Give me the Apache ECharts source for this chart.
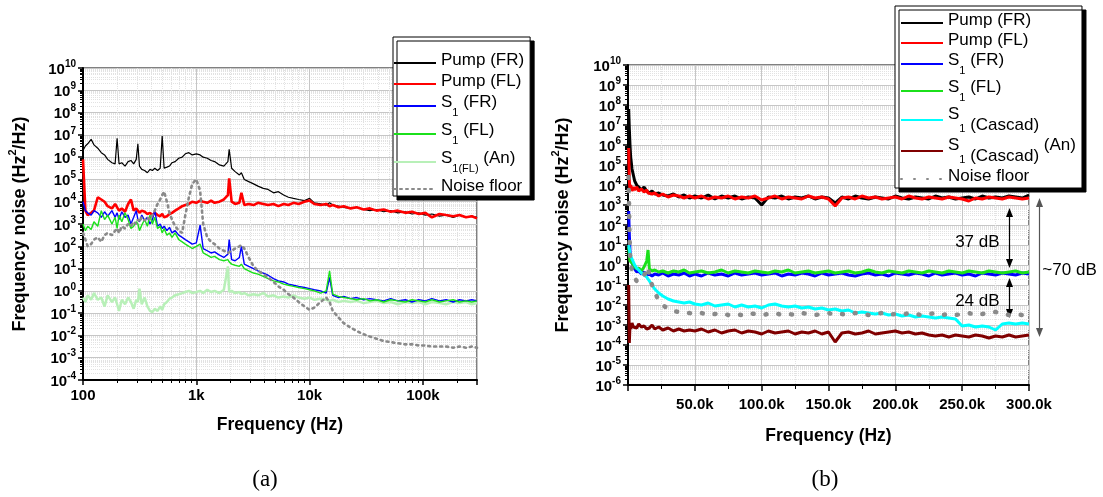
<!DOCTYPE html>
<html>
<head>
<meta charset="utf-8">
<script src="https://cdn.jsdelivr.net/npm/echarts@6/dist/echarts.min.js"></script>
<style>
  html, body { margin: 0; padding: 0; background: #fff; }
  #chart { width: 1103px; height: 497px; }
</style>
</head>
<body>
<div id="chart"></div>
<script>
// values are log10 of the frequency noise (Hz^2/Hz)

// panel (a): log frequency axis
var freqA = [100,105,110,118,125,135,145,155,165,180,
  192,200,208,220,235,250,265,280,295,305,
  315,330,350,370,390,410,430,455,480,500,
  520,550,580,610,650,700,750,800,860,920,
  1000,1080,1150,1250,1350,1450,1600,1750,1900,1950,
  2050,2200,2400,2500,2650,2900,3200,3500,3900,4300,
  4800,5300,5900,6500,7200,8000,9000,10000,11000,12500,
  14000,15000,16000,18000,20000,23000,26000,30000,34000,39000,
  45000,52000,60000,70000,80000,92000,105000,120000,140000,160000,
  185000,210000,240000,270000,300000];

var pumpFR_a = [6.3,6.5,6.6,6.8,6.55,6.4,6.2,6.1,5.9,5.75,
  5.7,6.85,5.7,5.75,5.6,5.8,5.85,5.7,5.9,6.6,
  5.6,5.45,5.4,5.3,5.45,5.4,5.5,5.4,5.5,6.95,
  5.5,5.55,5.6,5.75,5.8,5.95,6.0,6.15,6.2,6.1,
  6.15,6.1,6.0,5.95,5.85,5.8,5.65,5.6,5.8,6.35,
  5.5,5.35,5.2,5.3,5.0,4.9,4.8,4.7,4.6,4.55,
  4.4,4.45,4.3,4.2,4.15,4.1,4.05,4.15,3.95,3.9,
  3.85,3.95,3.85,3.8,3.75,3.7,3.75,3.65,3.6,3.65,
  3.55,3.6,3.5,3.55,3.45,3.5,3.4,3.45,3.35,3.4,
  3.3,3.4,3.3,3.35,3.3];

var pumpFL_a = [5.9,3.6,3.4,3.5,3.6,4.2,4.1,4.0,3.8,3.7,
  3.9,3.75,3.6,3.7,3.55,3.9,4.1,3.6,3.7,3.65,
  3.5,3.6,3.55,3.45,3.5,3.4,3.5,3.4,3.35,3.45,
  3.3,3.35,3.45,3.5,3.6,3.7,3.8,3.85,3.9,4.0,
  3.95,4.05,4.0,3.95,4.05,3.95,4.0,4.1,4.3,5.05,
  4.0,3.9,3.95,4.4,3.85,3.9,3.85,3.95,3.9,3.85,
  3.9,3.8,3.9,3.85,3.95,3.9,4.0,4.05,3.9,3.85,
  3.9,3.8,3.85,3.75,3.8,3.7,3.75,3.65,3.7,3.6,
  3.65,3.55,3.6,3.5,3.55,3.45,3.5,3.3,3.45,3.4,
  3.35,3.4,3.3,3.35,3.25];

var s1FR_a = [4.0,3.6,3.5,3.4,3.6,3.5,3.3,3.55,3.35,3.6,
  3.3,3.5,3.2,3.55,3.3,3.4,3.0,3.3,3.6,3.2,
  3.1,3.4,3.15,3.3,3.0,3.2,3.6,2.9,3.0,2.8,
  2.9,2.7,2.85,2.6,2.7,2.5,2.4,2.3,2.2,2.1,
  2.15,2.95,1.9,1.8,1.7,1.75,1.6,1.5,1.65,2.3,
  1.4,1.35,1.5,2.0,1.2,1.1,1.0,0.9,0.8,0.7,
  0.55,0.45,0.4,0.3,0.25,0.2,0.15,0.1,0.05,0.0,
  -0.1,0.6,-0.2,-0.3,-0.25,-0.35,-0.3,-0.4,-0.35,-0.4,
  -0.45,-0.35,-0.45,-0.4,-0.5,-0.4,-0.45,-0.35,-0.45,-0.4,
  -0.5,-0.4,-0.45,-0.4,-0.45];

var s1FL_a = [3.0,2.7,2.9,2.75,3.1,2.9,3.6,3.2,3.4,3.0,
  3.3,2.8,3.4,3.1,3.5,3.2,2.8,2.9,3.1,3.0,
  2.7,2.95,3.2,2.9,3.4,3.0,3.3,2.8,2.9,2.6,
  2.8,2.5,2.6,2.4,2.6,2.3,2.2,2.1,2.0,1.9,
  2.0,2.1,1.7,1.6,1.5,1.55,1.4,1.35,1.4,1.3,
  1.2,1.15,1.1,1.2,1.0,0.9,0.8,0.75,0.65,0.55,
  0.45,0.4,0.3,0.25,0.2,0.15,0.1,0.05,0.0,-0.1,
  0.0,0.9,-0.15,-0.25,-0.3,-0.35,-0.4,-0.35,-0.45,-0.4,
  -0.5,-0.4,-0.45,-0.5,-0.4,-0.45,-0.5,-0.4,-0.5,-0.45,
  -0.4,-0.5,-0.45,-0.5,-0.45];

var s1FLAn_a = [-0.3,-0.5,-0.2,-0.4,-0.1,-0.4,-0.3,-0.7,-0.2,-0.5,
  -0.3,-0.6,-0.9,-0.4,-0.6,-0.3,-0.5,-0.8,-0.4,-0.5,
  0.1,-0.6,-0.3,-0.7,-0.9,-0.95,-0.8,-0.9,-0.7,-0.85,
  -0.6,-0.5,-0.35,-0.3,-0.2,-0.15,-0.1,-0.05,0.0,-0.1,
  -0.05,0.0,-0.1,0.05,-0.05,0.0,-0.1,0.05,1.1,-0.05,
  0.0,-0.1,-0.05,-0.15,-0.1,-0.2,-0.15,-0.2,-0.1,-0.25,
  -0.2,-0.3,-0.25,-0.3,-0.2,-0.3,-0.35,-0.3,-0.4,-0.35,
  -0.4,-0.45,-0.4,-0.5,-0.45,-0.5,-0.45,-0.55,-0.5,-0.45,
  -0.55,-0.5,-0.6,-0.5,-0.55,-0.5,-0.6,-0.5,-0.55,-0.6,
  -0.5,-0.55,-0.5,-0.6,-0.55];

var noise_a = [2.6,2.3,2.0,2.1,2.3,2.4,2.2,2.5,2.6,2.5,
  2.7,2.8,2.6,2.9,2.8,3.0,2.9,3.1,3.0,3.2,
  3.1,3.3,3.15,3.3,3.2,3.4,3.6,3.9,4.1,4.3,
  4.45,4.0,3.5,3.2,2.9,2.7,2.6,3.4,4.2,4.8,
  5.0,4.5,3.0,2.4,2.2,2.1,1.9,1.8,1.7,1.75,
  1.8,1.9,2.0,2.05,1.9,1.5,1.1,0.9,0.75,0.6,
  0.4,0.2,0.05,-0.15,-0.3,-0.5,-0.7,-0.85,-0.75,-0.5,
  -0.3,-0.5,-0.9,-1.2,-1.45,-1.65,-1.8,-1.95,-2.05,-2.15,
  -2.25,-2.3,-2.35,-2.4,-2.4,-2.45,-2.45,-2.5,-2.5,-2.5,
  -2.55,-2.5,-2.55,-2.5,-2.55];

// panel (b): linear frequency axis
var freqB = [500,1000,1500,2000,3000,4000,5000,6500,8000,10000,
  12000,14000,15000,16000,18000,20000,23000,26000,30000,34000,
  38000,42000,46000,
  50000,55000,60000,65000,70000,75000,80000,85000,90000,95000,
  100000,105000,110000,115000,120000,125000,130000,135000,140000,145000,
  150000,155000,160000,165000,170000,175000,180000,185000,190000,195000,
  200000,205000,210000,215000,220000,225000,230000,235000,240000,245000,
  250000,255000,260000,265000,270000,275000,280000,285000,290000,295000,
  300000];

var pumpFR_b = [7.8,6.8,6.0,5.4,4.8,4.5,4.2,4.0,3.9,3.75,
  3.9,3.7,3.8,3.6,3.7,3.55,3.6,3.5,3.45,3.55,
  3.4,3.5,3.35,
  3.45,3.35,3.5,3.3,3.45,3.35,3.45,3.3,3.4,3.35,
  3.0,3.4,3.35,3.45,3.3,3.4,3.35,3.45,3.3,3.4,
  3.35,3.1,3.4,3.3,3.45,3.35,3.3,3.4,3.35,3.3,
  3.45,3.35,3.3,3.4,3.35,3.3,3.45,3.35,3.4,3.3,
  3.35,3.4,3.3,3.45,3.35,3.4,3.35,3.45,3.4,3.35,
  3.5];

var pumpFL_b = [5.85,4.2,3.8,4.0,3.7,3.9,3.75,3.9,3.7,3.8,
  3.65,3.75,3.6,3.7,3.55,3.6,3.45,3.55,3.4,3.5,
  3.45,3.35,3.45,
  3.35,3.45,3.3,3.4,3.35,3.45,3.3,3.4,3.35,3.45,
  3.25,3.35,3.45,3.3,3.4,3.35,3.3,3.45,3.35,3.4,
  3.3,2.95,3.35,3.4,3.3,3.45,3.35,3.4,3.3,3.35,
  3.4,3.3,3.45,3.35,3.3,3.4,3.35,3.3,3.4,3.35,
  3.3,3.2,3.35,3.3,3.4,3.35,3.3,3.4,3.35,3.3,
  3.35];

var s1FR_b = [2.7,1.5,0.7,0.3,0.1,0.0,-0.2,-0.35,-0.3,-0.45,
  -0.35,-0.5,-0.4,-0.45,-0.55,-0.45,-0.5,-0.4,-0.55,-0.45,
  -0.5,-0.4,-0.55,
  -0.45,-0.55,-0.4,-0.5,-0.45,-0.55,-0.4,-0.5,-0.45,-0.4,
  -0.5,-0.45,-0.4,-0.55,-0.45,-0.5,-0.4,-0.45,-0.55,-0.4,
  -0.5,-0.45,-0.4,-0.5,-0.55,-0.45,-0.4,-0.5,-0.45,-0.55,
  -0.4,-0.45,-0.5,-0.4,-0.45,-0.55,-0.4,-0.5,-0.45,-0.4,
  -0.5,-0.45,-0.55,-0.4,-0.45,-0.5,-0.4,-0.45,-0.5,-0.4,
  -0.45];

var s1FL_b = [0.9,0.5,0.2,0.3,0.1,0.15,-0.1,-0.2,-0.15,-0.3,
  -0.1,0.2,0.75,-0.2,-0.3,-0.25,-0.35,-0.3,-0.4,-0.3,
  -0.35,-0.25,-0.4,
  -0.35,-0.3,-0.4,-0.35,-0.25,-0.4,-0.3,-0.35,-0.4,-0.3,
  -0.35,-0.4,-0.3,-0.35,-0.25,-0.4,-0.35,-0.3,-0.4,-0.35,
  -0.3,-0.4,-0.35,-0.3,-0.4,-0.35,-0.25,-0.35,-0.4,-0.3,
  -0.35,-0.4,-0.3,-0.35,-0.4,-0.3,-0.35,-0.4,-0.3,-0.35,
  -0.4,-0.3,-0.35,-0.4,-0.3,-0.35,-0.4,-0.35,-0.3,-0.4,
  -0.35];

var cascad_b = [1.0,0.8,0.6,0.45,0.3,0.15,0.0,-0.15,-0.25,-0.4,
  -0.5,-0.6,-0.7,-0.8,-1.0,-1.2,-1.4,-1.55,-1.7,-1.8,
  -1.85,-1.9,-1.85,
  -1.95,-2.0,-1.9,-2.05,-2.0,-1.95,-2.1,-2.0,-2.1,-2.05,
  -2.15,-2.0,-1.95,-2.05,-2.1,-2.05,-2.15,-2.1,-2.2,-2.15,
  -2.25,-2.2,-2.3,-2.25,-2.4,-2.35,-2.4,-2.45,-2.4,-2.5,
  -2.45,-2.55,-2.5,-2.6,-2.55,-2.6,-2.65,-2.6,-2.65,-2.7,
  -3.05,-3.0,-3.1,-3.05,-3.1,-3.25,-2.95,-2.9,-2.95,-2.9,
  -2.95];

var cascadAn_b = [-1.0,-3.9,-3.0,-3.2,-2.9,-3.1,-3.0,-3.15,-2.95,-3.1,
  -3.05,-3.2,-3.1,-3.15,-3.0,-3.2,-3.1,-3.25,-3.15,-3.3,
  -3.2,-3.3,-3.25,
  -3.3,-3.2,-3.35,-3.25,-3.4,-3.3,-3.25,-3.4,-3.3,-3.35,
  -3.45,-3.3,-3.4,-3.35,-3.3,-3.45,-3.35,-3.4,-3.3,-3.45,
  -3.35,-3.85,-3.4,-3.35,-3.45,-3.4,-3.3,-3.45,-3.4,-3.35,
  -3.3,-3.4,-3.35,-3.45,-3.4,-3.5,-3.55,-3.5,-3.6,-3.5,
  -3.55,-3.6,-3.5,-3.55,-3.65,-3.55,-3.6,-3.5,-3.6,-3.55,
  -3.5];

var noise_b = [4.4,1.9,0.6,0.0,-0.3,-0.5,-0.65,-0.8,-0.85,-0.7,
  -0.5,-0.3,-0.1,-0.6,-1.0,-1.4,-1.75,-2.0,-2.2,-2.3,
  -2.35,-2.4,-2.4,
  -2.45,-2.4,-2.5,-2.45,-2.4,-2.5,-2.45,-2.5,-2.4,-2.45,
  -2.5,-2.45,-2.4,-2.5,-2.45,-2.5,-2.4,-2.45,-2.5,-2.45,
  -2.4,-2.5,-2.45,-2.5,-2.4,-2.45,-2.5,-2.45,-2.4,-2.5,
  -2.45,-2.5,-2.4,-2.45,-2.5,-2.45,-2.4,-2.5,-2.45,-2.5,
  -2.45,-2.4,-2.5,-2.45,-2.4,-2.35,-2.45,-2.5,-2.45,-2.5,
  -2.55];

var FONT = 'Liberation Sans, Arial, sans-serif';

var labels = {
  'a-pfr': '{t|Pump (FR)}',
  'a-pfl': '{t|Pump (FL)}',
  'a-sfr': '{t|S}{s|1}{t| (FR)}',
  'a-sfl': '{t|S}{s|1}{t| (FL)}',
  'a-an': '{t|S}{s|1(FL)}{t| (An)}',
  'a-nf': '{t|Noise floor}',
  'b-pfr': '{t|Pump (FR)}',
  'b-pfl': '{t|Pump (FL)}',
  'b-sfr': '{t|S}{s|1}{t| (FR)}',
  'b-sfl': '{t|S}{s|1}{t| (FL)}',
  'b-cas': '{t|S}{s|1}{d| (Cascad)}',
  'b-can': '{t|S}{s|1}{d| (Cascad)}{t| (An)}',
  'b-nf': '{t|Noise floor}'
};

function pts(freqs, logs) {
  return freqs.map(function (f, i) { return [f, Math.pow(10, logs[i])]; });
}

function line(id, xi, freqs, logs, color, width, dash) {
  return {
    name: id, type: 'line', xAxisIndex: xi, yAxisIndex: xi,
    data: pts(freqs, logs), symbol: 'none', showSymbol: false,
    animation: false, clip: true,
    lineStyle: { color: color, width: width, type: dash || 'solid', cap: dash ? 'round' : 'butt' },
    itemStyle: { color: color }
  };
}

var legendRich = {
  t: { fontSize: 17, fontFamily: FONT, color: '#000', lineHeight: 22, verticalAlign: 'top' },
  s: { fontSize: 11, fontFamily: FONT, color: '#000', lineHeight: 24, verticalAlign: 'bottom' },
  d: { fontSize: 17, fontFamily: FONT, color: '#000', lineHeight: 28, verticalAlign: 'bottom' }
};

function legendBox(left, top, names, gap, pad) {
  return {
    left: left, top: top, orient: 'vertical', data: names,
    itemWidth: 42, itemHeight: 14, itemGap: gap,
    padding: pad,
    backgroundColor: '#fff', borderColor: '#000', borderWidth: 1,
    shadowColor: '#000', shadowBlur: 0, shadowOffsetX: 4, shadowOffsetY: 4,
    selectedMode: false,
    itemStyle: { opacity: 0 },
    formatter: function (n) { return labels[n]; },
    textStyle: { fontFamily: FONT, fontSize: 17, color: '#000', rich: legendRich }
  };
}

var tickRich = {
  b: { fontSize: 15, fontWeight: 'bold', fontFamily: FONT, color: '#000', lineHeight: 18, verticalAlign: 'bottom' },
  p: { fontSize: 10, fontWeight: 'bold', fontFamily: FONT, color: '#000', lineHeight: 10, verticalAlign: 'top' }
};

function powLabel(v) {
  var e = Math.round(Math.log10(v));
  return '{b|10}{p|' + e + '}';
}

var nameRich = {
  a: { fontSize: 18, fontWeight: 'bold', fontFamily: FONT, color: '#000', lineHeight: 22, verticalAlign: 'bottom' },
  s: { fontSize: 11, fontWeight: 'bold', fontFamily: FONT, color: '#000', lineHeight: 12, verticalAlign: 'top' }
};

var yTitle = '{a|Frequency noise (Hz}{s|2}{a|/Hz)}';

function yLog(gi, min, max, gap) {
  return {
    type: 'log', logBase: 10, gridIndex: gi, min: min, max: max, interval: 1,
    name: yTitle, nameLocation: 'middle', nameGap: gap,
    nameTextStyle: { rich: nameRich },
    axisLine: { show: true, lineStyle: { color: '#000', width: 2 } },
    axisTick: { show: true, inside: false, length: 5, lineStyle: { color: '#000', width: 1.5 } },
    minorTick: { show: true, splitNumber: 9, length: 3, lineStyle: { color: '#000', width: 1 } },
    splitLine: { show: true, lineStyle: { color: '#c6c6c6', width: 1 } },
    minorSplitLine: { show: true, lineStyle: { color: '#e2e2e2', width: 1, type: 'dotted' } },
    axisLabel: { formatter: powLabel, rich: tickRich, margin: 7 }
  };
}

var xTitleStyle = { fontSize: 17.5, fontWeight: 'bold', fontFamily: FONT, color: '#000' };
var xLabelStyle = { fontSize: 15, fontWeight: 'bold', fontFamily: FONT, color: '#000' };

var chart = echarts.init(document.getElementById('chart'), null, { renderer: 'canvas' });

chart.setOption({
  backgroundColor: '#fff',
  animation: false,
  grid: [
    { left: 83, top: 68, width: 394, height: 312, show: true, borderColor: '#000', borderWidth: 1, backgroundColor: 'transparent' },
    { left: 628, top: 65, width: 401, height: 320, show: true, borderColor: '#000', borderWidth: 1, backgroundColor: 'transparent' }
  ],
  xAxis: [
    {
      type: 'log', logBase: 10, gridIndex: 0, min: 100, max: 300000, interval: 1,
      name: 'Frequency (Hz)', nameLocation: 'middle', nameGap: 36, nameTextStyle: xTitleStyle,
      axisLine: { lineStyle: { color: '#000', width: 2 } },
      axisTick: { show: true, length: 5, lineStyle: { color: '#000', width: 1.5 } },
      minorTick: { show: true, splitNumber: 9, length: 3, lineStyle: { color: '#000' } },
      splitLine: { show: true, lineStyle: { color: '#c6c6c6' } },
      minorSplitLine: { show: true, lineStyle: { color: '#e2e2e2', type: 'dotted' } },
      axisLabel: Object.assign({ margin: 8, formatter: function (v) {
        return ({ 100: '100', 1000: '1k', 10000: '10k', 100000: '100k' })[Math.round(v)] || '';
      } }, xLabelStyle)
    },
    {
      type: 'value', gridIndex: 1, min: 0, max: 300000, interval: 50000,
      name: 'Frequency (Hz)', nameLocation: 'middle', nameGap: 42, nameTextStyle: xTitleStyle,
      axisLine: { lineStyle: { color: '#000', width: 2 } },
      axisTick: { show: true, length: 6, lineStyle: { color: '#000', width: 1.5 } },
      minorTick: { show: true, splitNumber: 2, length: 4, lineStyle: { color: '#000' } },
      splitLine: { show: true, lineStyle: { color: '#c6c6c6' } },
      minorSplitLine: { show: true, lineStyle: { color: '#e2e2e2', type: 'dotted' } },
      axisLabel: Object.assign({ margin: 12, formatter: function (v) {
        return v === 0 ? '' : (v / 1000).toFixed(1) + 'k';
      } }, xLabelStyle)
    }
  ],
  yAxis: [yLog(0, 1e-4, 1e10, 54), yLog(1, 1e-6, 1e10, 56)],
  legend: [
    legendBox(393, 37, ['a-pfr', 'a-pfl', 'a-sfr', 'a-sfl', 'a-an', 'a-nf'], 4, [15, 6, 1, 0]),
    legendBox(895, 6, ['b-pfr', 'b-pfl', 'b-sfr', 'b-sfl', 'b-cas', 'b-can', 'b-nf'], 3, [6, 6, 3, 5])
  ],
  series: [
    line('a-an', 0, freqA, s1FLAn_a, '#b8f0b8', 2.5),
    line('a-pfr', 0, freqA, pumpFR_a, '#000000', 1.2),
    line('a-pfl', 0, freqA, pumpFL_a, '#ff0000', 2.6),
    line('a-sfr', 0, freqA, s1FR_a, '#0000ff', 1.4),
    line('a-sfl', 0, freqA, s1FL_a, '#1be01b', 1.4),
    line('a-nf', 0, freqA, noise_a, '#8a8a8a', 2.6, [2, 4]),
    line('b-pfr', 1, freqB, pumpFR_b, '#000000', 3),
    line('b-pfl', 1, freqB, pumpFL_b, '#ff0000', 3),
    line('b-sfr', 1, freqB, s1FR_b, '#0000ff', 3),
    line('b-sfl', 1, freqB, s1FL_b, '#1be01b', 3),
    line('b-cas', 1, freqB, cascad_b, '#00ffff', 3),
    line('b-can', 1, freqB, cascadAn_b, '#800000', 3),
    line('b-nf', 1, freqB, noise_b, '#8a8a8a', 4.5, [1, 12])
  ]
});

// annotations on panel (b), placed through the axes
function px(f, e) {
  return chart.convertToPixel({ xAxisIndex: 1, yAxisIndex: 1 }, [f, Math.pow(10, e)]);
}
function arrow(f, e1, e2, color) {
  var a = px(f, e1), b = px(f, e2);
  var x = Math.round(a[0]) + 0.5;
  return [
    { type: 'line', shape: { x1: x, y1: a[1] + 6, x2: x, y2: b[1] - 6 }, style: { stroke: color, lineWidth: 1.2 } },
    { type: 'polygon', shape: { points: [[x, a[1]], [x - 3.5, a[1] + 9], [x + 3.5, a[1] + 9]] }, style: { fill: color } },
    { type: 'polygon', shape: { points: [[x, b[1]], [x - 3.5, b[1] - 9], [x + 3.5, b[1] - 9]] }, style: { fill: color } }
  ];
}
function note(f, e, str, align) {
  var p = px(f, e);
  return { type: 'text', x: p[0], y: p[1], style: { text: str, font: '17px ' + FONT, fill: '#000', align: align, verticalAlign: 'middle' } };
}

var g = [];
g = g.concat(arrow(285000, 2.85, -0.15, '#000'));
g = g.concat(arrow(285000, -0.65, -2.65, '#000'));
g = g.concat(arrow(307600, 3.35, -3.6, '#555'));
g.push(note(278000, 1.15, '37 dB', 'right'));
g.push(note(278000, -1.8, '24 dB', 'right'));
g.push(note(310000, -0.25, '~70 dB', 'left'));
g.push({ type: 'text', x: 265, y: 480, style: { text: '(a)', font: '23px Liberation Serif, DejaVu Serif, serif', fill: '#000', align: 'center', verticalAlign: 'middle' } });
g.push({ type: 'text', x: 825, y: 480, style: { text: '(b)', font: '23px Liberation Serif, DejaVu Serif, serif', fill: '#000', align: 'center', verticalAlign: 'middle' } });

chart.setOption({ graphic: g });
</script>
</body>
</html>
